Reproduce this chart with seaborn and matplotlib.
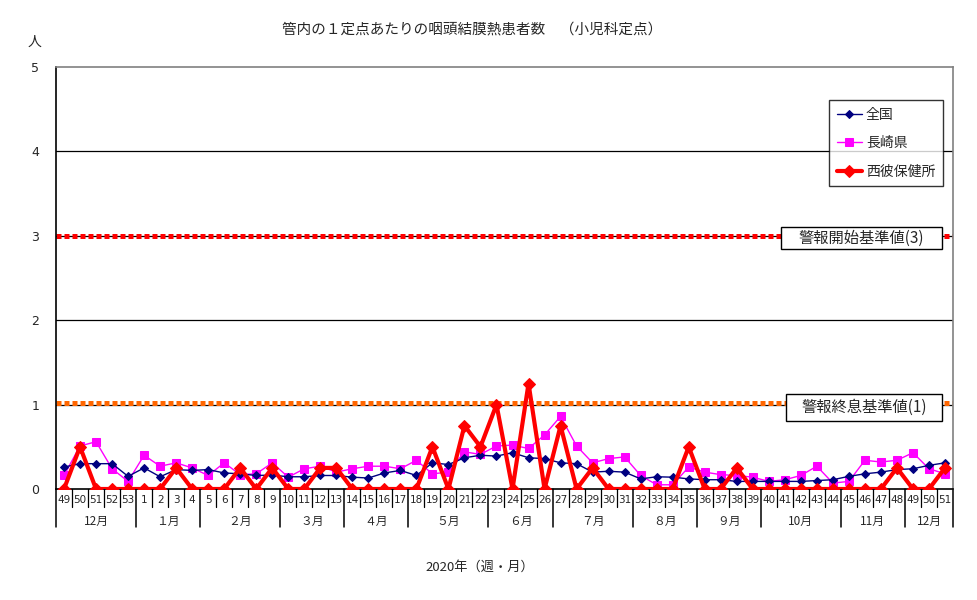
import numpy as np
import pandas as pd
import matplotlib
matplotlib.use("Agg")
import matplotlib.pyplot as plt
import matplotlib.transforms as mtransforms
from matplotlib.patches import Rectangle
import seaborn as sns

# week labels (2019 wk49-53, then 2020 wk1-51)
weeks = ["49", "50", "51", "52", "53",
         "1", "2", "3", "4", "5", "6", "7", "8", "9", "10",
         "11", "12", "13", "14", "15", "16", "17", "18", "19", "20",
         "21", "22", "23", "24", "25", "26", "27", "28", "29", "30",
         "31", "32", "33", "34", "35", "36", "37", "38", "39", "40",
         "41", "42", "43", "44", "45", "46", "47", "48", "49", "50", "51"]

months = ["12月", "１月", "２月", "３月", "４月", "５月", "６月",
          "７月", "８月", "９月", "10月", "11月", "12月"]
month_weeks = [5, 4, 5, 4, 4, 5, 4, 5, 4, 4, 5, 4, 3]

national = [0.26, 0.30, 0.30, 0.30, 0.15,
            0.25, 0.145, 0.23, 0.22,
            0.23, 0.19, 0.18, 0.16, 0.165,
            0.145, 0.145, 0.16, 0.16,
            0.14, 0.13, 0.19, 0.22,
            0.16, 0.31, 0.29, 0.37, 0.40,
            0.39, 0.43, 0.37, 0.36,
            0.31, 0.30, 0.20, 0.21, 0.20,
            0.12, 0.145, 0.14, 0.12,
            0.11, 0.11, 0.09, 0.09,
            0.09, 0.09, 0.09, 0.10, 0.11,
            0.15, 0.18, 0.20, 0.23,
            0.24, 0.28, 0.31]

nagasaki = [0.16, 0.51, 0.56, 0.24, 0.09,
            0.40, 0.27, 0.31, 0.25,
            0.16, 0.31, 0.17, 0.18, 0.31,
            0.14, 0.24, 0.27, 0.20,
            0.24, 0.27, 0.27, 0.24,
            0.34, 0.18, 0.20, 0.44, 0.41,
            0.51, 0.52, 0.48, 0.64,
            0.86, 0.51, 0.31, 0.36, 0.38,
            0.16, 0.05, 0.05, 0.26,
            0.20, 0.17, 0.16, 0.14,
            0.09, 0.11, 0.16, 0.27, 0.07,
            0.09, 0.34, 0.32, 0.34,
            0.43, 0.24, 0.18]

nishisonogi = [0, 0.5, 0, 0, 0,
               0, 0, 0.25, 0,
               0, 0, 0.25, 0, 0.25,
               0, 0, 0.25, 0.25,
               0, 0, 0, 0,
               0, 0.5, 0, 0.75, 0.5,
               1.0, 0, 1.25, 0,
               0.75, 0, 0.25, 0, 0,
               0, 0, 0, 0.5,
               0, 0, 0.25, 0,
               0, 0, 0, 0, 0,
               0, 0, 0, 0.25,
               0, 0, 0.25]

alert_start = 3
alert_end = 1

sns.set_style("white")
plt.rcParams['font.family'] = ['Noto Sans CJK JP', 'DejaVu Sans']

pos = np.arange(len(weeks))
df = pd.DataFrame({"pos": pos, "全国": national, "長崎県": nagasaki, "西彼保健所": nishisonogi})

W, H = 977, 600
fig = plt.figure(figsize=(9.77, 6.0), dpi=100)
ax = fig.add_axes([56 / W, 1 - 489 / H, 897 / W, 422 / H])

for g in [1, 2, 3, 4]:
    ax.axhline(g, color="black", lw=0.9, zorder=1)

ax.plot([pos[0] - 0.5, pos[-1] + 0.5], [alert_start, alert_start], color="#FF0000",
        lw=3.6, linestyle=(0, (1, 0.6)), zorder=2)
ax.plot([pos[0] - 0.5, pos[-1] + 0.5], [alert_end + 0.015, alert_end + 0.015], color="#FF6600",
        lw=3.6, linestyle=(0, (1, 0.6)), zorder=2)

sns.lineplot(data=df, x="pos", y="全国", ax=ax, color="#000080", lw=1,
             marker="D", markersize=4, markeredgecolor="#000080", label="全国", zorder=4)
sns.lineplot(data=df, x="pos", y="長崎県", ax=ax, color="#FF00FF", lw=1,
             marker="s", markersize=6, markeredgecolor="#FF00FF", label="長崎県", zorder=3)
sns.lineplot(data=df, x="pos", y="西彼保健所", ax=ax, color="#FF0000", lw=3,
             marker="D", markersize=6, markeredgecolor="#FF0000", label="西彼保健所", zorder=5)

ax.set_xlim(-0.5, len(weeks) - 0.5)
ax.set_ylim(0, 5)
ax.set_yticks([0, 1, 2, 3, 4, 5])
ax.set_yticklabels(["0", "1", "2", "3", "4", "5"], fontsize=9, family="DejaVu Sans")
ax.tick_params(axis="y", length=0, pad=12)
ax.set_xticks(pos)
ax.set_xticklabels(weeks, fontsize=7.5, family="DejaVu Sans")
ax.tick_params(axis="x", length=0, pad=4)
ax.set_xlabel("")
ax.set_ylabel("")

for s in ["top", "right"]:
    ax.spines[s].set_color("#808080")
    ax.spines[s].set_linewidth(1.2)
for s in ["left", "bottom"]:
    ax.spines[s].set_color("black")
    ax.spines[s].set_linewidth(1.2)

# axis table: week separators and month separators
trans = mtransforms.blended_transform_factory(ax.transData, ax.transAxes)
week_sep = -18 / 422
month_sep = -38 / 422
month_starts = np.cumsum([0] + month_weeks)
for i in range(1, len(weeks)):
    if i in month_starts:
        continue
    ax.plot([i - 0.5, i - 0.5], [0, week_sep], transform=trans, color="black", lw=0.9, clip_on=False)
for b in month_starts:
    ax.plot([b - 0.5, b - 0.5], [0, month_sep], transform=trans, color="black", lw=1.1, clip_on=False)
for k, m in enumerate(months):
    c = (month_starts[k] + month_starts[k + 1] - 1) / 2
    ax.text(c, -32 / 422, m, transform=trans, ha="center", va="center", fontsize=8.5)

leg = ax.legend(loc="upper left", bbox_to_anchor=((829 - 56) / 897, (489 - 100) / 422),
                frameon=True, fancybox=False, edgecolor="black", fontsize=10,
                handlelength=1.8, borderpad=0.55, labelspacing=1.05, handletextpad=0.3,
                borderaxespad=0)
leg.get_frame().set_linewidth(1)
leg.set_zorder(10)


def label_box(x0, y0, x1, y1, text):
    # white box in pixel coordinates with centred text
    r = Rectangle((x0 / W, 1 - y1 / H), (x1 - x0) / W, (y1 - y0) / H, transform=fig.transFigure,
                  facecolor="white", edgecolor="black", lw=1, zorder=10)
    fig.patches.append(r)
    fig.text((x0 + x1) / 2 / W, 1 - (y0 + y1) / 2 / H, text, ha="center", va="center",
             fontsize=11, zorder=11)


label_box(781, 227, 942, 249, "警報開始基準値(3)")
label_box(786, 394, 942, 421, "警報終息基準値(1)")

fig.text(472 / W, 1 - 30 / H, "管内の１定点あたりの咽頭結膜熱患者数　（小児科定点）",
         ha="center", va="center", fontsize=10.5)
fig.text(35 / W, 1 - 42 / H, "人", ha="center", va="center", fontsize=10)
fig.text(480 / W, 1 - 567 / H, "2020年（週・月）", ha="center", va="center", fontsize=9.5)

fig.savefig("out.png", dpi=100)
